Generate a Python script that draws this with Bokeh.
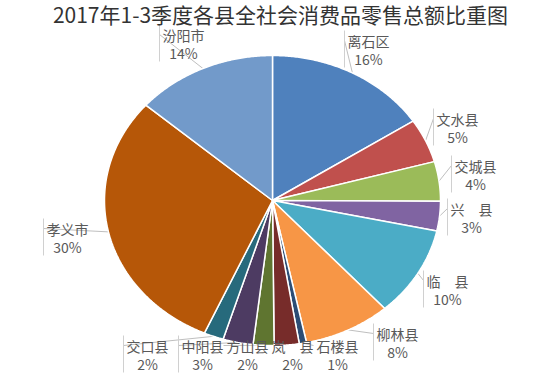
import numpy as np
from bokeh.plotting import figure
from bokeh.models import Range1d, ColumnDataSource
from bokeh.core.properties import value
from bokeh.embed import file_html
from bokeh.resources import INLINE

title = "2017年1-3季度各县全社会消费品零售总额比重图"
counties = ["离石区", "文水县", "交城县", "兴　县", "临　县", "柳林县", "石楼县",
            "岚　县", "方山县", "中阳县", "交口县", "孝义市", "汾阳市"]
shares = [15.8, 4.9, 4.4, 3.3, 10.0, 8.4, 0.7, 2.4, 2.0, 2.9, 1.9, 29.8, 13.6]
colors = ["#4F81BD", "#C0504D", "#9BBB59", "#8064A2", "#4BACC6", "#F79646", "#2C4D75",
          "#772C2A", "#5F7530", "#4D3B62", "#276A7C", "#B65708", "#729ACA"]
label_x = [368, 457, 475, 471, 447, 397, 337, 292, 247, 202, 147, 67, 183]
label_y = [40, 118, 165, 208, 280, 333, 345, 345, 345, 345, 345, 228, 34]

W, H = 551, 377
CX, CY, RX, RY = 272, 200, 168, 145
FONT = value("Noto Sans CJK SC")

p = figure(width=W, height=H, x_range=Range1d(0, W), y_range=Range1d(H, 0),
           output_backend="svg", toolbar_location=None, min_border=0,
           x_axis_location=None, y_axis_location=None)
p.grid.visible = False
p.outline_line_color = None
p.background_fill_color = "white"

total = sum(shares)
xs, ys, mids = [], [], []
start = 90.0
for s in shares:
    sweep = s / total * 360.0
    th = np.radians(np.linspace(start, start - sweep, max(int(sweep * 2), 2) + 1))
    xs.append([CX] + list(CX + RX * np.cos(th)))
    ys.append([CY] + list(CY - RY * np.sin(th)))
    mids.append(np.radians(start - sweep / 2))
    start -= sweep

# leader lines (drawn beneath the pie so they only show outside it)
lx0, ly0, lx1, ly1 = [], [], [], []
bx, by0, by1 = [], [], []
for i, (m, x, y) in enumerate(zip(mids, label_x, label_y)):
    ax = CX + RX * np.cos(m)
    ay = CY - RY * np.sin(m)
    edge = x - 24
    lx0.append(edge); ly0.append(y); lx1.append(ax); ly1.append(ay)
    if y < 340 or i in (9, 10):
        bx.append(edge); by0.append(y - 10); by1.append(y + 27)
p.segment(x0=lx0, y0=ly0, x1=lx1, y1=ly1, line_color="#BFBFBF", line_width=1)
p.segment(x0=bx, y0=by0, x1=bx, y1=by1, line_color="#D0D0D0", line_width=1)

p.patches(xs=xs, ys=ys, fill_color=colors, line_color="white", line_width=1.5)

pcts = [f"{round(s / total * 100)}%" for s in shares]
src = ColumnDataSource(dict(x=label_x, y=label_y, y2=[v + 18 for v in label_y],
                            name=counties, pct=pcts))
p.text(x="x", y="y", text="name", source=src, text_font=FONT, text_font_size="14px",
       text_color="#595959", text_align="center", text_baseline="middle")
p.text(x="x", y="y2", text="pct", source=src, text_font=FONT, text_font_size="14px",
       text_color="#595959", text_align="center", text_baseline="middle")

p.text(x=[280], y=[13], text=[title], text_font=FONT, text_font_size="21px",
       text_color="#333333", text_align="center", text_baseline="middle")

open("out.html", "w").write(file_html(p, INLINE))
